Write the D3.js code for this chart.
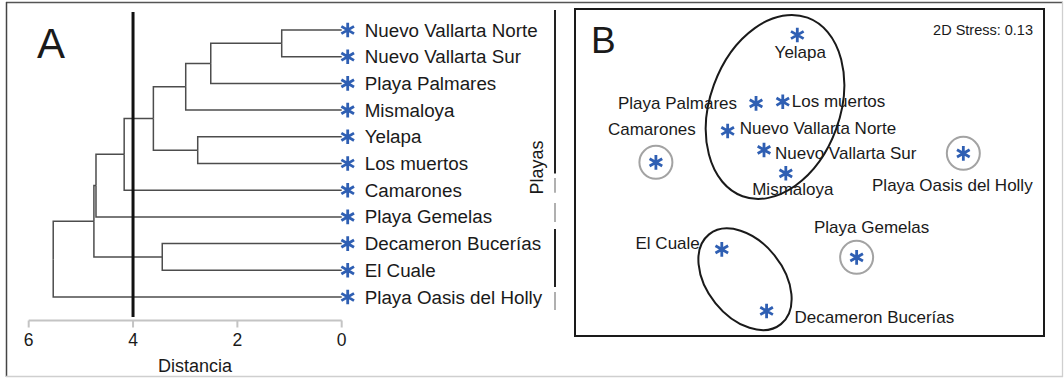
<!DOCTYPE html>
<html>
<head>
<meta charset="utf-8">
<script src="https://cdn.jsdelivr.net/npm/d3@7"></script>
<style>
  html, body { margin: 0; padding: 0; background: #fff; }
  svg { display: block; }
  text { font-family: "Liberation Sans", Arial, Helvetica, sans-serif; fill: #1a1a1a; }
</style>
</head>
<body>
<script>
// ---------------- DATA ----------------
// Panel A: leaves (top to bottom) and agglomerative merges (distance)
const leafNames = ["Nuevo Vallarta Norte", "Nuevo Vallarta Sur", "Playa Palmares", "Mismaloya",
  "Yelapa", "Los muertos", "Camarones", "Playa Gemelas", "Decameron Bucerías", "El Cuale",
  "Playa Oasis del Holly"];
const mergeIds    = ["m1", "m2", "m3", "m4", "m5", "m6", "m7", "m8", "m9", "m10"];
const mergeLeft   = ["Nuevo Vallarta Norte", "m1", "m2", "Yelapa", "m3", "m5", "m6", "Decameron Bucerías", "m7", "m9"];
const mergeRight  = ["Nuevo Vallarta Sur", "Playa Palmares", "Mismaloya", "Los muertos", "m4", "Camarones", "Playa Gemelas", "El Cuale", "m8", "Playa Oasis del Holly"];
const mergeHeight = [1.15, 2.51, 2.99, 2.76, 3.61, 4.17, 4.71, 3.44, 4.75, 5.53];
const distTicks = [6, 4, 2, 0];
const cutDistance = 4;
// group brackets (in leaf-row units) : black = grouped, gray = single
const bracketStart = [-0.75, 5.54, 6.48, 7.45, 9.81];
const bracketEnd   = [5.37, 6.10, 7.19, 9.63, 10.49];
const bracketType  = ["group", "single", "single", "group", "single"];

// Panel B: NMDS ordination (MDS1, MDS2)
const nmdsNames = ["Yelapa", "Playa Palmares", "Los muertos", "Nuevo Vallarta Norte", "Nuevo Vallarta Sur",
  "Mismaloya", "Camarones", "Playa Oasis del Holly", "Playa Gemelas", "El Cuale", "Decameron Bucerías"];
const nmdsX = [-0.052, -0.228, -0.114, -0.349, -0.194, -0.101, -0.655, 0.656, 0.201, -0.374, -0.183];
const nmdsY = [0.841, 0.423, 0.433, 0.254, 0.138, -0.005, 0.062, 0.117, -0.519, -0.470, -0.847];
const circled = ["Camarones", "Playa Oasis del Holly", "Playa Gemelas"];
const groupEllipseCx = [-0.147, -0.275];
const groupEllipseCy = [0.401, -0.653];
const stressText = "2D Stress: 0.13";

// ---------------- STYLE / LAYOUT ----------------
const W = 1064, H = 378;
const blue = "#2f5fb3";
const lineCol = "#4d4d4d";
const labelPlace = { // dx, dy, anchor
  "Yelapa": [3, 23, "middle"],
  "Playa Palmares": [-19, 6, "end"],
  "Los muertos": [9, 5, "start"],
  "Nuevo Vallarta Norte": [12, 3, "start"],
  "Nuevo Vallarta Sur": [11, 9, "start"],
  "Mismaloya": [7, 22, "middle"],
  "Camarones": [-4, -27, "middle"],
  "Playa Oasis del Holly": [-11, 38, "middle"],
  "Playa Gemelas": [15, -24, "middle"],
  "El Cuale": [-22, 0, "end"],
  "Decameron Bucerías": [28, 12, "start"]
};
const ellipseStyle = [ {rx: 65, ry: 95, rot: 20}, {rx: 38, ry: 57.5, rot: -38.7} ];

const svg = d3.select("body").append("svg").attr("width", W).attr("height", H);

// outer frame
svg.append("line").attr("x1", 6).attr("x2", 1063).attr("y1", 2.5).attr("y2", 2.5).attr("stroke", "#555").attr("stroke-width", 1.3);
svg.append("line").attr("x1", 6.5).attr("x2", 6.5).attr("y1", 2).attr("y2", 377).attr("stroke", "#444").attr("stroke-width", 1.5);
svg.append("line").attr("x1", 6).attr("x2", 1063).attr("y1", 376.5).attr("y2", 376.5).attr("stroke", "#cfcfcf").attr("stroke-width", 1.3);
svg.append("line").attr("x1", 1062.5).attr("x2", 1062.5).attr("y1", 2).attr("y2", 377).attr("stroke", "#cfcfcf").attr("stroke-width", 1.3);

const asterisk = d3.symbol().type(d3.symbolAsterisk).size(150);

// ---------------- PANEL A ----------------
const xA = d3.scaleLinear().domain([6, 0]).range([28.7, 341.7]);
const yA = d3.scalePoint().domain(leafNames).range([30, 297]);
const rowStep = yA.step();
const rowY = v => yA(leafNames[0]) + v * rowStep;

// build hierarchy from merge arrays
const nodeMap = {};
leafNames.forEach(n => nodeMap[n] = {name: n, height: 0});
mergeIds.forEach((id, i) => {
  nodeMap[id] = {name: id, height: mergeHeight[i], children: [nodeMap[mergeLeft[i]], nodeMap[mergeRight[i]]]};
});
const root = d3.hierarchy(nodeMap[mergeIds[mergeIds.length - 1]]);
root.eachAfter(d => {
  d.px = xA(d.data.height);
  d.py = d.children ? d3.mean(d.children, c => c.py) : yA(d.data.name);
});

const gA = svg.append("g");
// links (elbow)
gA.selectAll("path.link").data(root.links()).join("path")
  .attr("d", l => `M${l.target.px},${l.target.py}H${l.source.px}V${l.source.py}`)
  .attr("fill", "none").attr("stroke", lineCol).attr("stroke-width", 1.5);

// cut line
gA.append("line").attr("x1", xA(cutDistance)).attr("x2", xA(cutDistance))
  .attr("y1", 12).attr("y2", 317).attr("stroke", "#111").attr("stroke-width", 3);

// axis
const axisY = 320.5;
gA.append("line").attr("x1", xA(6)).attr("x2", xA(0)).attr("y1", axisY).attr("y2", axisY)
  .attr("stroke", "#c4c4c4").attr("stroke-width", 2);
gA.selectAll("line.tick").data(distTicks).join("line")
  .attr("x1", d => xA(d)).attr("x2", d => xA(d)).attr("y1", axisY).attr("y2", axisY + 7)
  .attr("stroke", "#c4c4c4").attr("stroke-width", 2);
gA.selectAll("text.tick").data(distTicks).join("text")
  .attr("x", d => xA(d)).attr("y", 346).attr("text-anchor", "middle")
  .attr("font-size", 17.5).text(d => d);
gA.append("text").attr("x", 195).attr("y", 372).attr("text-anchor", "middle")
  .attr("font-size", 18).text("Distancia");

// leaves
const leaves = root.leaves();
gA.selectAll("path.ast").data(leaves).join("path")
  .attr("transform", d => `translate(${d.px + 6},${d.py})`)
  .attr("d", asterisk).attr("fill", "none").attr("stroke", blue).attr("stroke-width", 2.8);
gA.selectAll("text.leaf").data(leaves).join("text")
  .attr("x", d => d.px + 23).attr("y", d => d.py).attr("dy", "0.35em")
  .attr("font-size", 18.8).text(d => d.data.name);

gA.append("text").attr("x", 37).attr("y", 58).attr("font-size", 42).text("A");

// brackets
const bx = 555;
gA.selectAll("line.br").data(bracketStart).join("line")
  .attr("x1", bx).attr("x2", bx)
  .attr("y1", d => rowY(d)).attr("y2", (d, i) => rowY(bracketEnd[i]))
  .attr("stroke", (d, i) => bracketType[i] === "group" ? "#222" : "#b0b0b0")
  .attr("stroke-width", 2);
gA.append("text").attr("transform", "translate(537,167.5) rotate(-90)")
  .attr("text-anchor", "middle").attr("dy", "0.35em").attr("font-size", 18).text("Playas");

// ---------------- PANEL B ----------------
const xB = d3.scaleLinear().domain([-1, 1]).range([575, 1044]);
const yB = d3.scaleLinear().domain([-1, 1]).range([336, 9]);
const gB = svg.append("g");
gB.append("rect").attr("x", xB(-1)).attr("y", yB(1)).attr("width", xB(1) - xB(-1)).attr("height", yB(-1) - yB(1))
  .attr("fill", "none").attr("stroke", "#1a1a1a").attr("stroke-width", 2);
gB.append("text").attr("x", 591).attr("y", 53).attr("font-size", 37).text("B");
gB.append("text").attr("x", 1033).attr("y", 35).attr("text-anchor", "end").attr("font-size", 14.5).text(stressText);

const pts = nmdsNames.map((n, i) => ({name: n, x: nmdsX[i], y: nmdsY[i]}));

gB.selectAll("circle.ring").data(pts.filter(p => circled.includes(p.name))).join("circle")
  .attr("cx", d => xB(d.x)).attr("cy", d => yB(d.y)).attr("r", 16.5)
  .attr("fill", "none").attr("stroke", "#a3a3a3").attr("stroke-width", 2);

gB.selectAll("text.pl").data(pts).join("text")
  .attr("x", d => xB(d.x) + labelPlace[d.name][0])
  .attr("y", d => yB(d.y) + labelPlace[d.name][1])
  .attr("text-anchor", d => labelPlace[d.name][2])
  .attr("font-size", 17).text(d => d.name);

gB.selectAll("path.ast").data(pts).join("path")
  .attr("transform", d => `translate(${xB(d.x)},${yB(d.y)})`)
  .attr("d", asterisk).attr("fill", "none").attr("stroke", blue).attr("stroke-width", 2.8);

gB.selectAll("ellipse.grp").data(groupEllipseCx).join("ellipse")
  .attr("transform", (d, i) => `translate(${xB(d)},${yB(groupEllipseCy[i])}) rotate(${ellipseStyle[i].rot})`)
  .attr("rx", (d, i) => ellipseStyle[i].rx).attr("ry", (d, i) => ellipseStyle[i].ry)
  .attr("fill", "none").attr("stroke", "#1a1a1a").attr("stroke-width", 2);
</script>
</body>
</html>
